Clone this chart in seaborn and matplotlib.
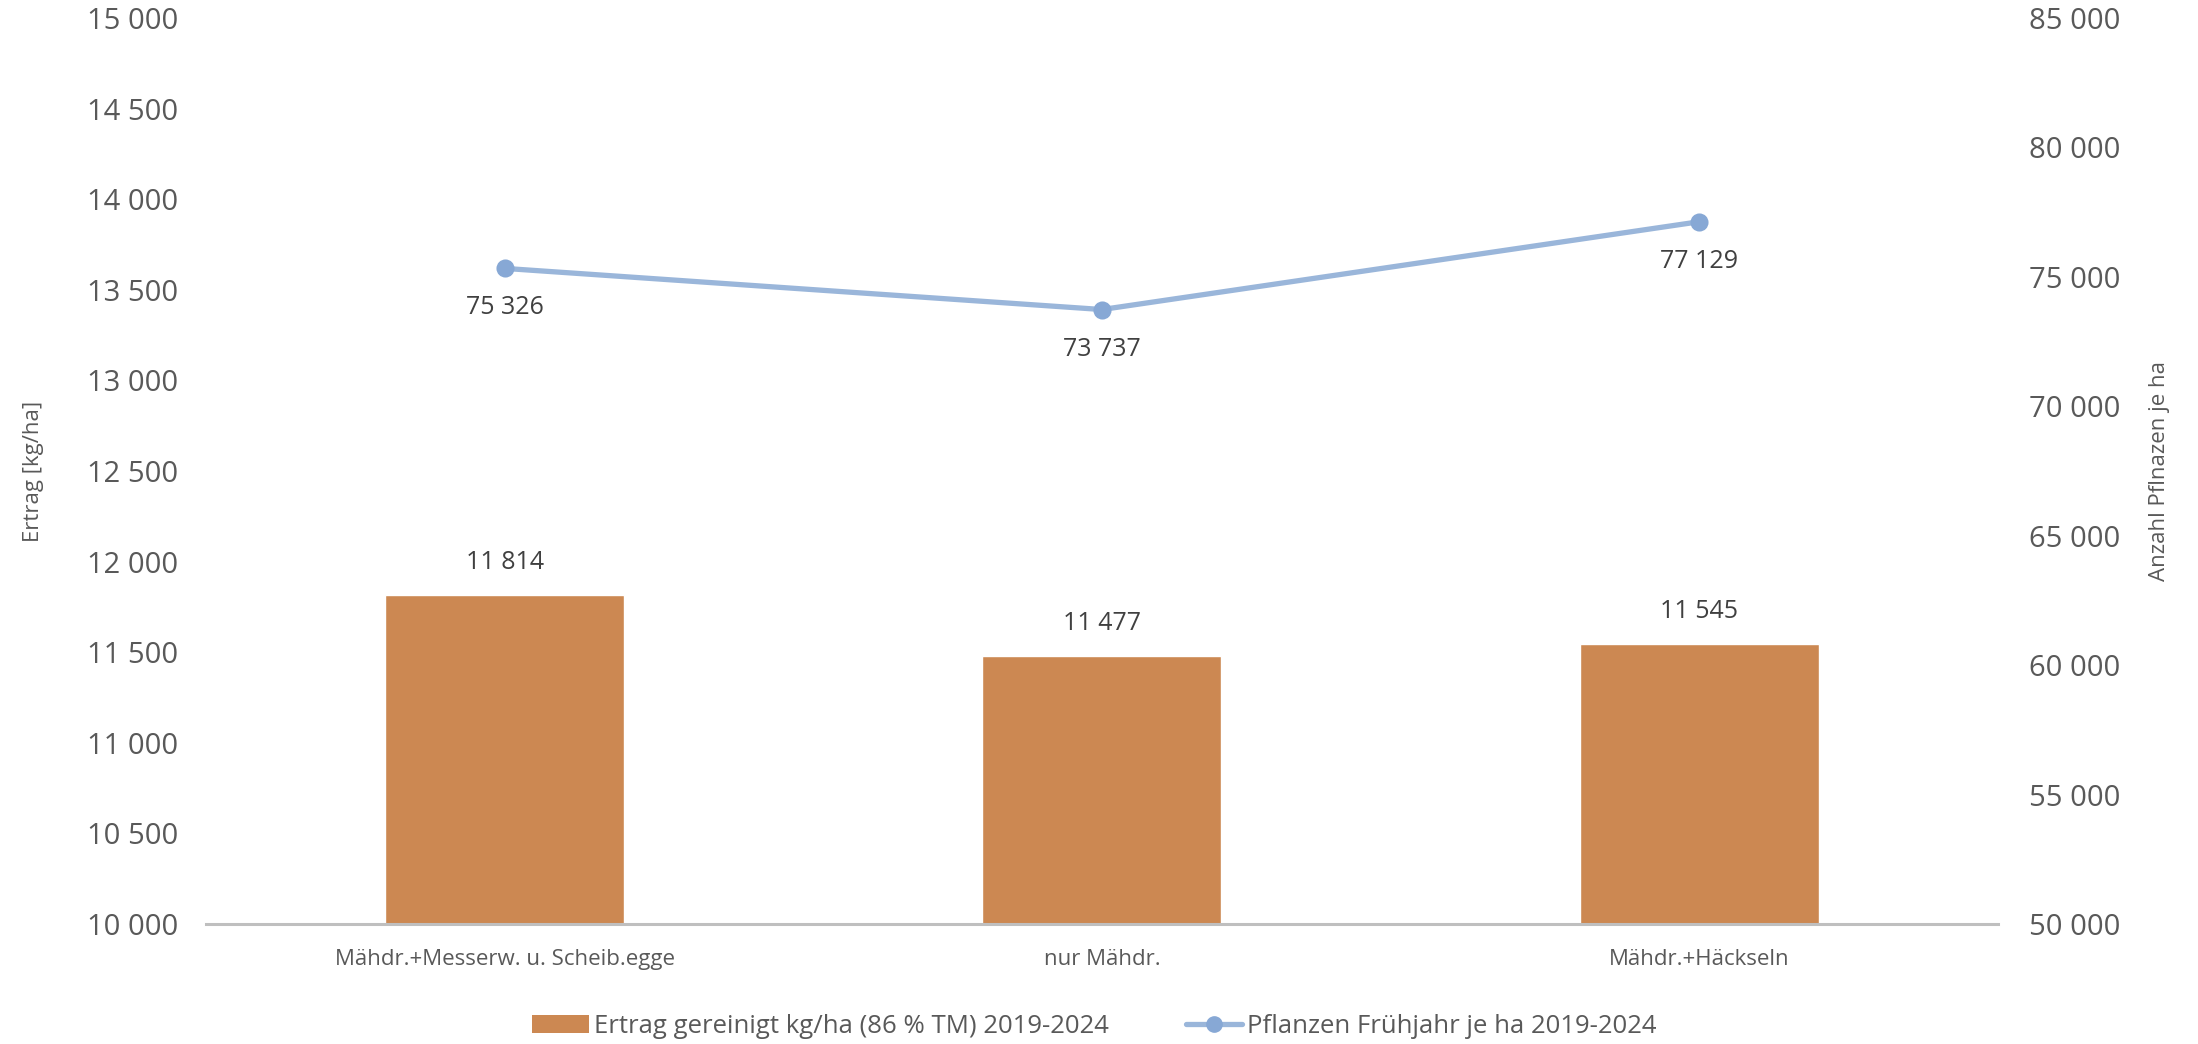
import matplotlib
matplotlib.use('Agg')
import matplotlib.pyplot as plt
import seaborn as sns
import pandas as pd
from matplotlib.ticker import FuncFormatter, MultipleLocator
from matplotlib.patches import Patch
from matplotlib.lines import Line2D

# data
categories = ['Mähdr.+Messerw. u. Scheib.egge', 'nur Mähdr.', 'Mähdr.+Häckseln']
ertrag = [11814, 11477, 11545]
pflanzen = [75326, 73737, 77129]
bar_label = 'Ertrag gereinigt kg/ha (86 % TM) 2019-2024'
line_label = 'Pflanzen Frühjahr je ha 2019-2024'

bar_color = '#CC8852'
line_color = '#9AB6DA'
marker_color = '#87A8D5'
tick_color = '#595959'
text_color = '#404040'

sns.set_style('white')
plt.rcParams['font.family'] = ['Open Sans', 'DejaVu Sans']

df = pd.DataFrame({'Variante': categories, 'Ertrag': ertrag, 'Pflanzen': pflanzen})

fig = plt.figure(figsize=(21.98, 10.44), dpi=100)
ax = fig.add_axes([0.0937, 0.1149, 0.9090 - 0.0937, 0.9828 - 0.1149])

sns.barplot(data=df, x='Variante', y='Ertrag', color=bar_color, width=0.4,
            saturation=1, ax=ax)
ax.set_ylim(10000, 15000)
ax.yaxis.set_major_locator(MultipleLocator(500))

fmt = FuncFormatter(lambda v, p: f'{v:,.0f}'.replace(',', ' '))
ax.yaxis.set_major_formatter(fmt)

for i, v in enumerate(ertrag):
    ax.annotate(f'{v:,}'.replace(',', ' '), (i, v), xytext=(0, 20),
                textcoords='offset pixels', ha='center', va='bottom',
                fontsize=18, color=text_color)

ax2 = ax.twinx()
sns.pointplot(data=df, x='Variante', y='Pflanzen', color=line_color,
              markers='o', linestyles='-', ax=ax2)
for ln in ax2.lines:
    ln.set_linewidth(3.8)
    ln.set_markersize(11)
    ln.set_markerfacecolor(marker_color)
    ln.set_markeredgecolor(marker_color)
ax2.set_ylim(50000, 85000)
ax2.yaxis.set_major_locator(MultipleLocator(5000))
ax2.yaxis.set_major_formatter(fmt)
ax2.set_xlim(-0.5, 2.5)
ax.set_xlim(-0.5, 2.5)

for i, v in enumerate(pflanzen):
    ax2.annotate(f'{v:,}'.replace(',', ' '), (i, v), xytext=(0, -27),
                 textcoords='offset pixels', ha='center', va='top',
                 fontsize=18, color=text_color)

for a in (ax, ax2):
    for s in a.spines.values():
        s.set_visible(False)
    a.tick_params(axis='both', length=0, labelsize=21, labelcolor=tick_color)
    a.grid(False)
ax.spines['bottom'].set_visible(True)
ax.spines['bottom'].set_color('#BFBFBF')
ax.spines['bottom'].set_linewidth(2.2)
ax.tick_params(axis='x', labelsize=16, pad=18)
ax.tick_params(axis='y', pad=20)
ax2.tick_params(axis='y', pad=22)

ax.set_xlabel('')
ax.set_ylabel('Ertrag [kg/ha]', fontsize=16, color=tick_color, labelpad=31)
ax2.set_xlabel('')
ax2.set_ylabel('Anzahl Pflnazen je ha', fontsize=16, color=tick_color, labelpad=21)

handles = [Patch(facecolor=bar_color, edgecolor='none'),
           Line2D([0], [0], color=line_color, lw=3.8, marker='o',
                  markersize=11, markerfacecolor=marker_color,
                  markeredgecolor=marker_color)]
fig.legend(handles, [bar_label, line_label], loc='center',
           bbox_to_anchor=(0.498, 0.017), ncol=2, frameon=False,
           fontsize=18.5, labelcolor=tick_color, handlelength=2.2,
           handletextpad=0.2, columnspacing=3.0)

fig.savefig('out.png', dpi=100)
